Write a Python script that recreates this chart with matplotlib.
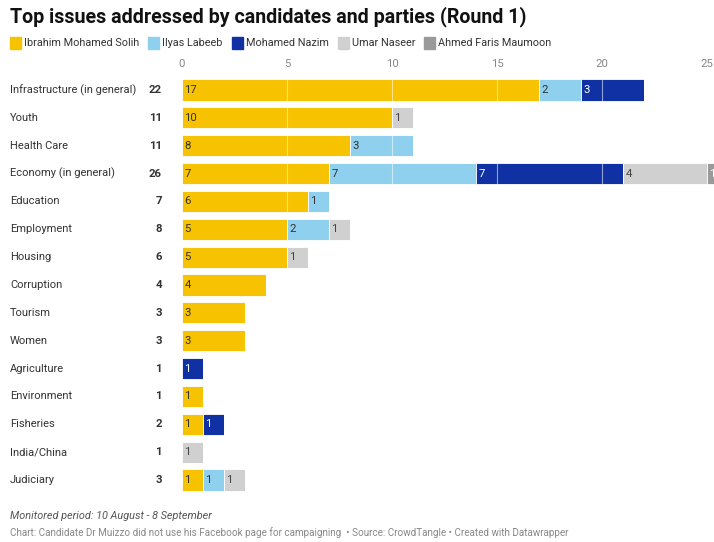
import matplotlib
matplotlib.use("Agg")
import matplotlib.pyplot as plt
import matplotlib.transforms as mtransforms
from matplotlib.patches import Rectangle

plt.rcParams['font.family'] = ['Roboto', 'DejaVu Sans']

categories = ["Infrastructure (in general)", "Youth", "Health Care", "Economy (in general)",
              "Education", "Employment", "Housing", "Corruption", "Tourism", "Women",
              "Agriculture", "Environment", "Fisheries", "India/China", "Judiciary"]
candidates = ["Ibrahim Mohamed Solih", "Ilyas Labeeb", "Mohamed Nazim", "Umar Naseer",
              "Ahmed Faris Maumoon"]
solih  = [17, 10, 8, 7, 6, 5, 5, 4, 3, 3, 0, 1, 1, 0, 1]
labeeb = [2, 0, 3, 7, 1, 2, 0, 0, 0, 0, 0, 0, 0, 0, 1]
nazim  = [3, 0, 0, 7, 0, 0, 0, 0, 0, 0, 1, 0, 1, 0, 0]
naseer = [0, 1, 0, 4, 0, 1, 1, 0, 0, 0, 0, 0, 0, 1, 1]
faris  = [0, 0, 0, 1, 0, 0, 0, 0, 0, 0, 0, 0, 0, 0, 0]
ticks = [0, 5, 10, 15, 20, 25]

series = [solih, labeeb, nazim, naseer, faris]
colors = ["#f7c200", "#8fd0ef", "#1031a3", "#d0d0d0", "#9a9a9a"]
text_colors = ["#333333", "#333333", "#ffffff", "#444444", "#ffffff"]

fig = plt.figure(figsize=(7.14, 5.42), dpi=100)
ax = fig.add_axes([182 / 714, 1 - 494 / 542, 525 / 714, 418 / 542])

n = len(categories)
ys = list(range(n))
bar_h = 0.76
left = [0] * n
for vals, col, tc in zip(series, colors, text_colors):
    ax.barh(ys, vals, left=left, height=bar_h, color=col, edgecolor="white",
            linewidth=0.6, clip_on=False, zorder=2)
    for y, v, l in zip(ys, vals, left):
        if v > 0:
            ax.text(l + 0.12, y, str(v), va="center", ha="left", fontsize=8.2,
                    color=tc, zorder=4, clip_on=False)
    left = [a + b for a, b in zip(left, vals)]

totals = left
ax.set_xlim(0, 25)
ax.set_ylim(n - 0.5, -0.5)

# white gridlines drawn over the bars
for t in ticks[1:-1]:
    ax.axvline(t, color="white", linewidth=0.8, alpha=0.55, zorder=3)

ax.set_xticks(ticks)
ax.xaxis.tick_top()
ax.tick_params(axis="x", length=0, labelsize=8.2, labelcolor="#888888", pad=5)
ax.set_yticks([])
for s in ax.spines.values():
    s.set_visible(False)

# category names and row totals
trans = mtransforms.blended_transform_factory(fig.transFigure, ax.transData)
for y, cat, tot in zip(ys, categories, totals):
    ax.text(10 / 714, y, cat, transform=trans, ha="left", va="center", fontsize=8.0,
            color="#333333")
    ax.text(162 / 714, y, str(tot), transform=trans, ha="right", va="center",
            fontsize=8.2, color="#333333", fontweight="bold")

fig.text(10 / 714, 1 - 17 / 542, "Top issues addressed by candidates and parties (Round 1)",
         ha="left", va="center", fontsize=14.1, fontweight="bold", color="#111111")

# legend row
x = 10
for name, col in zip(candidates, colors):
    fig.patches.append(Rectangle((x / 714, 1 - 49 / 542), 11 / 714, 12 / 542,
                                 transform=fig.transFigure, color=col))
    t = fig.text((x + 14) / 714, 1 - 43 / 542, name, ha="left", va="center",
                 fontsize=7.8, color="#333333")
    fig.canvas.draw()
    bb = t.get_window_extent()
    x = bb.x1 + 9

fig.text(10 / 714, 1 - 516 / 542, "Monitored period: 10 August - 8 September",
         ha="left", va="center", fontsize=7.8, style="italic", color="#555555")
fig.text(10 / 714, 1 - 533 / 542,
         "Chart: Candidate Dr Muizzo did not use his Facebook page for campaigning  \u2022 Source: CrowdTangle \u2022 Created with Datawrapper",
         ha="left", va="center", fontsize=7.1, color="#888888")

fig.savefig("out.png", dpi=100, facecolor="white")
